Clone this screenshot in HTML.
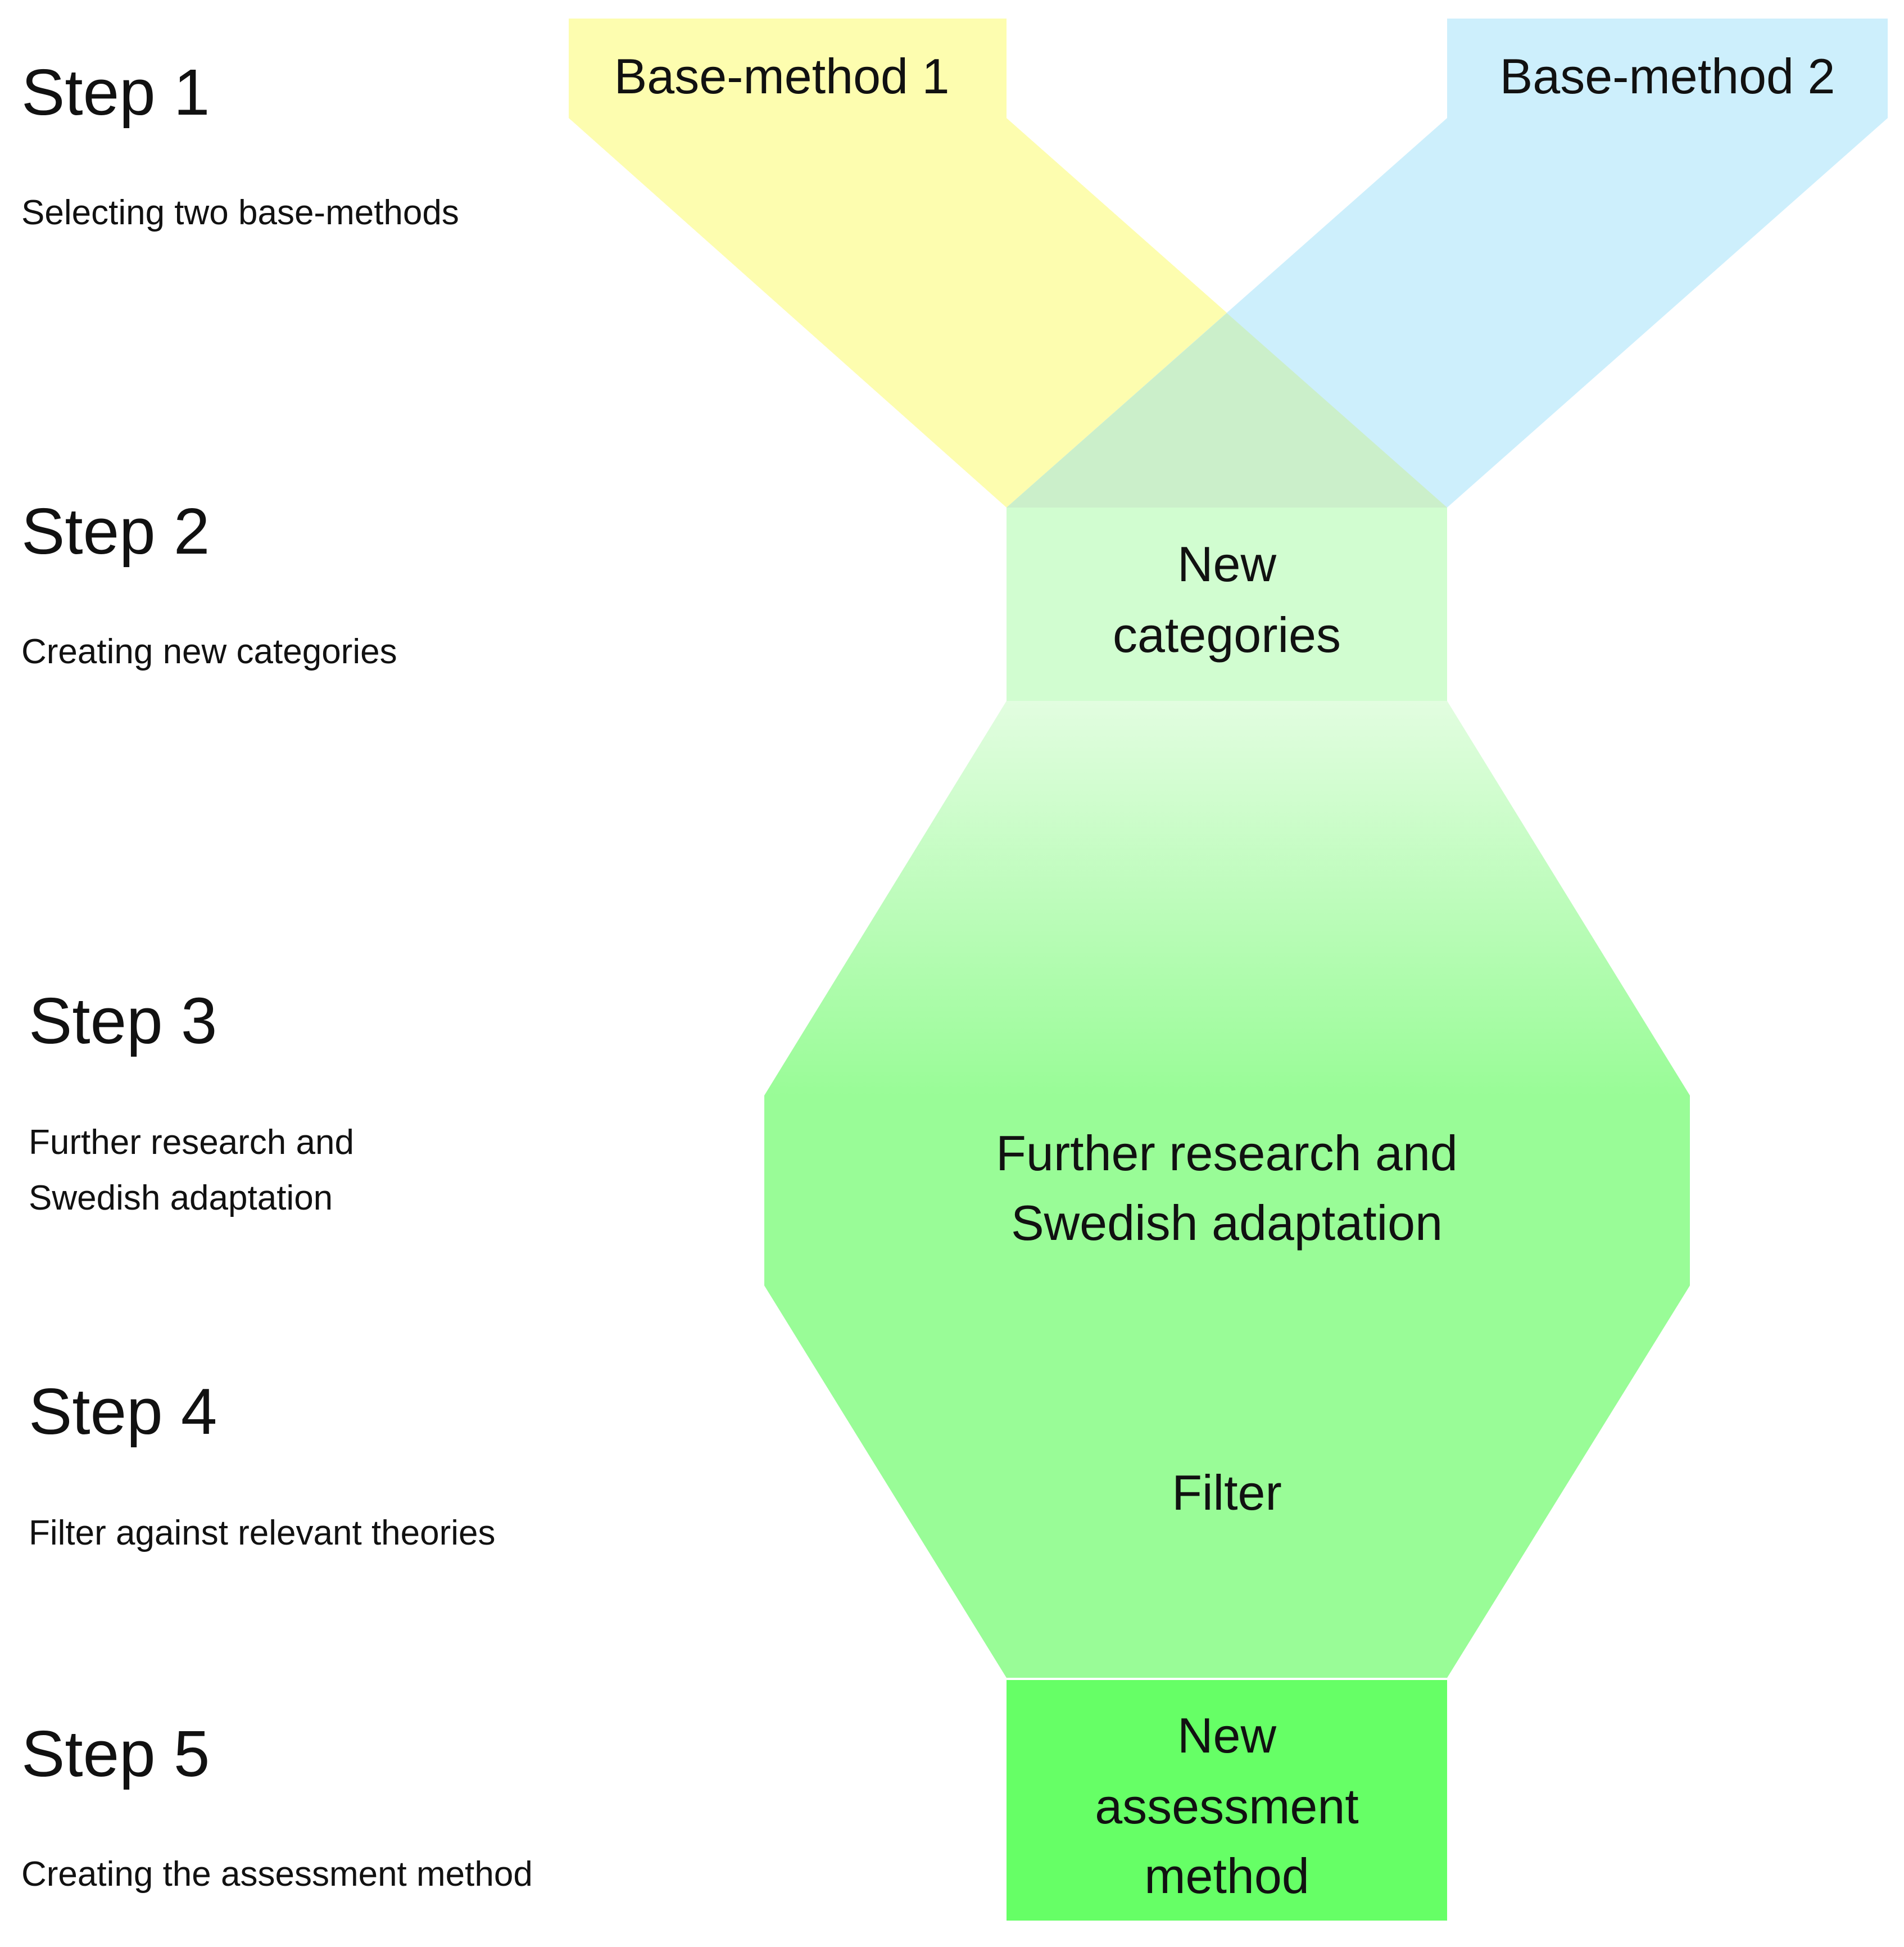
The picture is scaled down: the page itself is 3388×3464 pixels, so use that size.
<!DOCTYPE html>
<html><head><meta charset="utf-8"><style>html,body{margin:0;padding:0;background:#fff}svg{display:block}</style></head>
<body>
<svg width="3388" height="3464" viewBox="0 0 3388 3464" xmlns="http://www.w3.org/2000/svg">
<defs>
<linearGradient id="g" x1="0" y1="1247" x2="0" y2="1949" gradientUnits="userSpaceOnUse">
<stop offset="0" stop-color="#e2fde0"/><stop offset="1" stop-color="#99fc97"/>
</linearGradient>
</defs>
<polygon points="1012,33 1791,33 1791,210 2575,903 1791,903 1012,210" fill="#fdfdaf"/>
<polygon points="2575,33 3359,33 3359,210 2575,903 1791,903 2575,210" fill="#cdeffc"/>
<polygon points="2183,557 2575,903 1791,903" fill="#cbefca"/>
<rect x="1791" y="903" width="784" height="344" fill="#d1fdd0"/>
<polygon points="1791,1247 2575,1247 3007,1949 3007,2287 2575,2985 1791,2985 1360,2287 1360,1949" fill="url(#g)"/>
<polygon points="1360,1949 3007,1949 3007,2287 2575,2985 1791,2985 1360,2287" fill="#99fc97"/>
<rect x="1791" y="2989" width="784" height="428" fill="#66ff66"/>
<g font-family="Liberation Sans, sans-serif" fill="#111">
<text x="38" y="204" font-size="116">Step 1</text>
<text x="38" y="399" font-size="62">Selecting two base-methods</text>
<text x="38" y="985" font-size="116">Step 2</text>
<text x="38" y="1180" font-size="62">Creating new categories</text>
<text x="51" y="1856" font-size="116">Step 3</text>
<text x="51" y="2053" font-size="62">Further research and</text>
<text x="51" y="2152" font-size="62">Swedish adaptation</text>
<text x="51" y="2551" font-size="116">Step 4</text>
<text x="51" y="2748" font-size="62">Filter against relevant theories</text>
<text x="38" y="3160" font-size="116">Step 5</text>
<text x="38" y="3355" font-size="62">Creating the assessment method</text>
</g>
<g font-family="Liberation Sans, sans-serif" fill="#111" font-size="88" text-anchor="middle">
<text x="1391" y="166">Base-method 1</text>
<text x="2967" y="166">Base-method 2</text>
<text x="2183" y="1034">New</text>
<text x="2183" y="1160">categories</text>
<text x="2183" y="2082">Further research and</text>
<text x="2183" y="2206">Swedish adaptation</text>
<text x="2183" y="2686">Filter</text>
<text x="2183" y="3118">New</text>
<text x="2183" y="3244">assessment</text>
<text x="2183" y="3368">method</text>
</g>
</svg>
</body></html>
